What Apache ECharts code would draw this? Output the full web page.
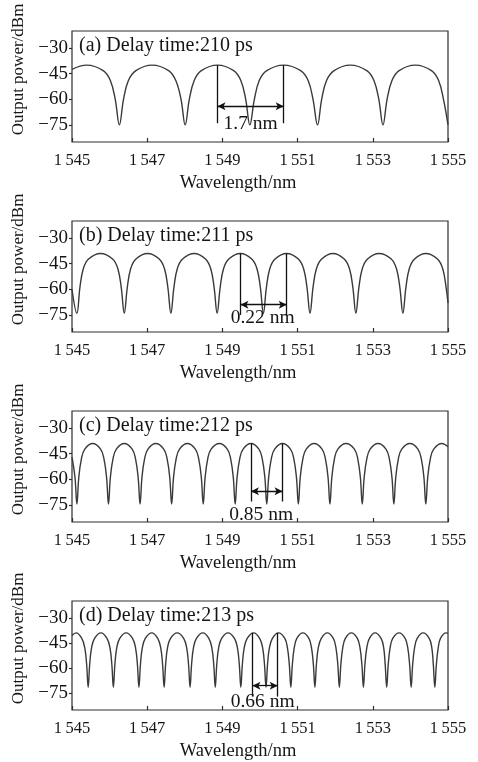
<!DOCTYPE html>
<html>
<head>
<meta charset="utf-8">
<script src="https://cdn.jsdelivr.net/npm/echarts@6/dist/echarts.min.js"></script>
<style>
html,body{margin:0;padding:0;background:#fff;}
#chart{width:478px;height:762px;}
</style>
</head>
<body>
<div id="chart"></div>
<script>
// ---- data ----
const wavelengthTicks = [1545, 1547, 1549, 1551, 1553, 1555];
const wavelengthTickLabels = ['1\u2009545', '1\u2009547', '1\u2009549', '1\u2009551', '1\u2009553', '1\u2009555'];
const powerTicks = [-75, -60, -45, -30];
const powerTickLabels = ['\u221275', '\u221260', '\u221245', '\u221230'];

const panelTitles = ['(a) Delay time:210 ps', '(b) Delay time:211 ps', '(c) Delay time:212 ps', '(d) Delay time:213 ps'];

const curveA = [
[1545.00,-42.5],[1545.39,-40],[1545.83,-43.2],[1546.02,-49],[1546.15,-60],[1546.26,-75],
[1546.37,-60],[1546.50,-49],[1546.70,-43.2],[1547.13,-40],
[1547.57,-43.2],[1547.76,-49],[1547.90,-60],[1548.01,-75],
[1548.12,-60],[1548.25,-49],[1548.44,-43.2],[1548.87,-40],
[1549.30,-43.2],[1549.49,-49],[1549.62,-60],[1549.73,-75],
[1549.85,-60],[1549.98,-49],[1550.18,-43.2],[1550.63,-40],
[1551.08,-43.2],[1551.28,-49],[1551.41,-60],[1551.53,-75],
[1551.64,-60],[1551.77,-49],[1551.97,-43.2],[1552.40,-40],
[1552.84,-43.2],[1553.03,-49],[1553.16,-60],[1553.27,-75],
[1553.38,-60],[1553.51,-49],[1553.70,-43.2],[1554.13,-40],
[1554.56,-43.2],[1554.75,-49],[1554.88,-60],[1555.00,-75]
];

const curveB = [
[1545.00,-60],[1545.13,-74],
[1545.21,-59],[1545.30,-48],[1545.44,-42.3],[1545.76,-39],
[1546.08,-42.3],[1546.22,-48],[1546.31,-59],[1546.39,-74],
[1546.47,-59],[1546.56,-48],[1546.70,-42.3],[1547.01,-39],
[1547.32,-42.3],[1547.46,-48],[1547.55,-59],[1547.63,-74],
[1547.71,-59],[1547.80,-48],[1547.94,-42.3],[1548.25,-39],
[1548.55,-42.3],[1548.69,-48],[1548.78,-59],[1548.86,-74],
[1548.94,-59],[1549.03,-48],[1549.17,-42.3],[1549.48,-39],
[1549.78,-42.3],[1549.92,-48],[1550.01,-59],[1550.09,-74],
[1550.17,-59],[1550.26,-48],[1550.40,-42.3],[1550.71,-39],
[1551.02,-42.3],[1551.16,-48],[1551.25,-59],[1551.33,-74],
[1551.41,-59],[1551.50,-48],[1551.64,-42.3],[1551.94,-39],
[1552.24,-42.3],[1552.38,-48],[1552.47,-59],[1552.55,-74],
[1552.63,-59],[1552.72,-48],[1552.86,-42.3],[1553.17,-39],
[1553.49,-42.3],[1553.63,-48],[1553.72,-59],[1553.80,-74],
[1553.88,-59],[1553.97,-48],[1554.11,-42.3],[1554.41,-39],
[1554.72,-42.3],[1554.86,-48],[1554.95,-59],[1555.00,-68]
];

const curveC = [
[1545.00,-47],[1545.08,-59],[1545.13,-74.5],
[1545.18,-59],[1545.25,-48],[1545.34,-42.3],[1545.55,-39],
[1545.76,-42.3],[1545.85,-48],[1545.92,-59],[1545.97,-74.5],
[1546.02,-59],[1546.09,-48],[1546.18,-42.3],[1546.39,-39],
[1546.60,-42.3],[1546.69,-48],[1546.76,-59],[1546.81,-74.5],
[1546.86,-59],[1546.93,-48],[1547.02,-42.3],[1547.23,-39],
[1547.44,-42.3],[1547.53,-48],[1547.60,-59],[1547.65,-74.5],
[1547.70,-59],[1547.77,-48],[1547.86,-42.3],[1548.07,-39],
[1548.28,-42.3],[1548.37,-48],[1548.44,-59],[1548.49,-74.5],
[1548.54,-59],[1548.61,-48],[1548.70,-42.3],[1548.92,-39],
[1549.13,-42.3],[1549.22,-48],[1549.29,-59],[1549.34,-74.5],
[1549.39,-59],[1549.46,-48],[1549.55,-42.3],[1549.76,-39],
[1549.97,-42.3],[1550.06,-48],[1550.13,-59],[1550.18,-74.5],
[1550.23,-59],[1550.30,-48],[1550.39,-42.3],[1550.60,-39],
[1550.81,-42.3],[1550.90,-48],[1550.97,-59],[1551.02,-74.5],
[1551.07,-59],[1551.14,-48],[1551.23,-42.3],[1551.44,-39],
[1551.65,-42.3],[1551.74,-48],[1551.81,-59],[1551.86,-74.5],
[1551.91,-59],[1551.98,-48],[1552.07,-42.3],[1552.29,-39],
[1552.51,-42.3],[1552.60,-48],[1552.67,-59],[1552.72,-74.5],
[1552.77,-59],[1552.84,-48],[1552.93,-42.3],[1553.14,-39],
[1553.35,-42.3],[1553.44,-48],[1553.51,-59],[1553.56,-74.5],
[1553.61,-59],[1553.68,-48],[1553.77,-42.3],[1553.99,-39],
[1554.20,-42.3],[1554.29,-48],[1554.36,-59],[1554.41,-74.5],
[1554.46,-59],[1554.53,-48],[1554.62,-42.3],[1554.84,-39],
[1555.00,-41]
];

const curveD = [
[1545.00,-40.5],[1545.11,-39],
[1545.26,-42.3],[1545.34,-48],[1545.39,-58],[1545.43,-71.5],
[1545.47,-58],[1545.52,-48],[1545.60,-42.3],[1545.77,-39],
[1545.93,-42.3],[1546.01,-48],[1546.06,-58],[1546.10,-71.5],
[1546.14,-58],[1546.19,-48],[1546.27,-42.3],[1546.44,-39],
[1546.61,-42.3],[1546.69,-48],[1546.74,-58],[1546.78,-71.5],
[1546.82,-58],[1546.87,-48],[1546.95,-42.3],[1547.12,-39],
[1547.28,-42.3],[1547.36,-48],[1547.41,-58],[1547.45,-71.5],
[1547.49,-58],[1547.54,-48],[1547.62,-42.3],[1547.80,-39],
[1547.97,-42.3],[1548.05,-48],[1548.10,-58],[1548.14,-71.5],
[1548.18,-58],[1548.23,-48],[1548.31,-42.3],[1548.48,-39],
[1548.64,-42.3],[1548.72,-48],[1548.77,-58],[1548.81,-71.5],
[1548.85,-58],[1548.90,-48],[1548.98,-42.3],[1549.15,-39],
[1549.32,-42.3],[1549.40,-48],[1549.45,-58],[1549.49,-71.5],
[1549.53,-58],[1549.58,-48],[1549.66,-42.3],[1549.83,-39],
[1549.99,-42.3],[1550.07,-48],[1550.12,-58],[1550.16,-71.5],
[1550.20,-58],[1550.25,-48],[1550.33,-42.3],[1550.49,-39],
[1550.66,-42.3],[1550.73,-48],[1550.78,-58],[1550.82,-71.5],
[1550.86,-58],[1550.91,-48],[1550.98,-42.3],[1551.14,-39],
[1551.30,-42.3],[1551.37,-48],[1551.42,-58],[1551.46,-71.5],
[1551.50,-58],[1551.55,-48],[1551.63,-42.3],[1551.79,-39],
[1551.95,-42.3],[1552.02,-48],[1552.07,-58],[1552.11,-71.5],
[1552.15,-58],[1552.20,-48],[1552.27,-42.3],[1552.43,-39],
[1552.59,-42.3],[1552.66,-48],[1552.71,-58],[1552.75,-71.5],
[1552.79,-58],[1552.84,-48],[1552.91,-42.3],[1553.06,-39],
[1553.22,-42.3],[1553.29,-48],[1553.33,-58],[1553.37,-71.5],
[1553.41,-58],[1553.46,-48],[1553.53,-42.3],[1553.70,-39],
[1553.86,-42.3],[1553.93,-48],[1553.98,-58],[1554.02,-71.5],
[1554.06,-58],[1554.11,-48],[1554.18,-42.3],[1554.34,-39],
[1554.50,-42.3],[1554.57,-48],[1554.61,-58],[1554.65,-71.5],
[1554.69,-58],[1554.74,-48],[1554.80,-42.3],[1554.95,-39],
[1555.00,-39.3]
];

// spacing annotations (wavelengths of the two marked peaks, line ends, arrow level, text)
const spacingPeaks = [[1548.87, 1550.63], [1549.48, 1550.71], [1549.76, 1550.60], [1549.80, 1550.47]];
const spacingLineTop = [-40, -39, -39, -39];
const spacingLineBottom = [-74, -75, -73, -77];
const spacingArrowLevel = [-64, -69, -67, -70.5];
const spacingTexts = ['1.7 nm', '0.22 nm', '0.85 nm', '0.66 nm'];
const spacingTextPos = [[1549.75, -74.5], [1550.07, -76.6], [1550.03, -81], [1550.07, -80]];

// ---- chart ----
const curves = [curveA, curveB, curveC, curveD];
const FONT = '"Liberation Serif", "Times New Roman", serif';
const TXT = '#151515';
const chart = echarts.init(document.getElementById('chart'), null, {renderer: 'canvas'});

const grids = [], xAxes = [], yAxes = [], series = [], titles = [];
for (let i = 0; i < 4; i++) {
  const off = 190 * i;
  grids.push({left: 72, right: 30, top: 31 + off, height: 111, show: true,
    borderColor: '#2e2e2e', borderWidth: 1.2, backgroundColor: 'transparent'});
  xAxes.push({
    gridIndex: i, type: 'value', min: 1545, max: 1555,
    name: 'Wavelength/nm', nameLocation: 'middle', nameGap: 32,
    nameTextStyle: {fontFamily: FONT, fontSize: 18.5, color: TXT, padding: [0, 44, 0, 0]},
    axisLine: {show: false}, splitLine: {show: false},
    axisTick: {show: true, inside: true, length: 4, customValues: wavelengthTicks,
      lineStyle: {color: '#2e2e2e', width: 1.2}},
    axisLabel: {customValues: wavelengthTicks, margin: 10, fontFamily: FONT, fontSize: 16.5, color: TXT,
      formatter: v => wavelengthTickLabels[wavelengthTicks.indexOf(v)]}
  });
  yAxes.push({
    gridIndex: i, type: 'value', min: -85, max: -20,
    name: 'Output power/dBm', nameLocation: 'middle', nameRotate: 90, nameGap: 45,
    nameTextStyle: {fontFamily: FONT, fontSize: 17, color: TXT, padding: [0, 0, 0, 34]},
    axisLine: {show: false}, splitLine: {show: false},
    axisTick: {show: true, inside: false, length: 3, customValues: powerTicks,
      lineStyle: {color: '#2e2e2e', width: 1.2}},
    axisLabel: {customValues: powerTicks, margin: 4, fontFamily: FONT, fontSize: 19, color: TXT,
      formatter: v => powerTickLabels[powerTicks.indexOf(v)]}
  });
  titles.push({text: panelTitles[i], left: 79, top: 36 + off, padding: 0,
    textStyle: {fontFamily: FONT, fontSize: 20, fontWeight: 'normal', color: TXT}});
  const [p1, p2] = spacingPeaks[i];
  series.push({
    type: 'line', xAxisIndex: i, yAxisIndex: i, data: curves[i],
    showSymbol: false, smooth: 0.4, silent: true,
    lineStyle: {color: '#3a3a3a', width: 1.4},
    markLine: {
      silent: true, symbol: 'none', symbolSize: [6, 8], animation: false,
      label: {show: false},
      lineStyle: {color: '#111', width: 1.3, type: 'solid'},
      data: [
        [{coord: [p1, spacingLineTop[i]]}, {coord: [p1, spacingLineBottom[i]]}],
        [{coord: [p2, spacingLineTop[i]]}, {coord: [p2, spacingLineBottom[i]]}],
        [{coord: [p1, spacingArrowLevel[i]], symbol: 'arrow'}, {coord: [p2, spacingArrowLevel[i]], symbol: 'arrow'}]
      ]
    }
  });
  series.push({
    type: 'scatter', xAxisIndex: i, yAxisIndex: i, data: [spacingTextPos[i]],
    symbolSize: 0, silent: true, itemStyle: {opacity: 1},
    label: {show: true, position: 'inside', formatter: spacingTexts[i],
      fontFamily: FONT, fontSize: 19.5, color: TXT, textBorderWidth: 0, opacity: 1}
  });
}

chart.setOption({
  animation: false,
  backgroundColor: '#fff',
  title: titles,
  grid: grids,
  xAxis: xAxes,
  yAxis: yAxes,
  series: series
});
</script>
</body>
</html>
